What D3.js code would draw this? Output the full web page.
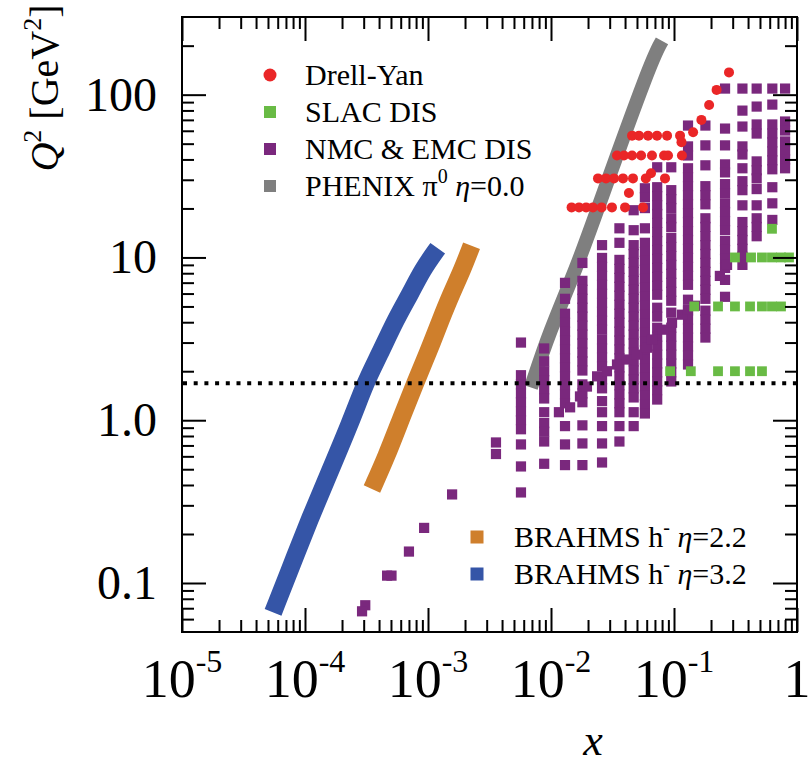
<!DOCTYPE html>
<html>
<head>
<meta charset="utf-8">
<script src="https://cdn.jsdelivr.net/npm/d3@7/dist/d3.min.js"></script>
<style>
html,body{margin:0;padding:0;background:#fff;}
svg{display:block;}
text{font-family:"Liberation Serif","Times New Roman",Times,serif;fill:#000;}
</style>
</head>
<body>
<svg id="chart" width="809" height="765"></svg>
<script>
// ---------------- data ----------------
const drellYanX = [0.0147,0.0169,0.0193,0.0219,0.0258,0.0313,0.040,0.056,
  0.043,
  0.0241,0.028,0.0325,0.0385,0.0464,0.059,0.065,0.0845,
  0.0344,0.0392,0.0456,0.054,0.0662,0.083,0.0894,0.116,
  0.0456,0.0519,0.0615,0.0728,0.0878,0.112,
  0.115,0.143,0.167,0.193,0.222,0.28];
const drellYanQ2 = [20.3,20.3,20.3,20.3,20.3,20.3,20.3,20.3,
  24.9,
  30.6,30.6,30.6,30.6,30.6,30.6,32.9,30.6,
  42.3,42.3,42.3,42.3,42.3,42.3,42.3,42.3,
  56,56,56,56,56,56,
  51.1,58.8,70,86.5,107,137];

const slacX = [0.626,
  0.313,0.423,0.519,0.626,0.741,0.861,
  0.146,0.228,0.313,0.415,0.519,0.626,0.741,
  0.093,0.137,0.228,0.313,0.415,0.519];
const slacQ2 = [15,
  10,10,10,10,10,10,
  5,5,5,5,5,5,5,
  2,2,2,2,2,2];

const nmcColumnX = [0.0057,0.0088,0.013,0.018,0.026,0.036,0.047,0.058,0.073,0.095,0.13,0.18,0.26,0.36,0.47,0.63,0.80];
const nmcColumnQ2 = [
  [3.0,1.89,1.66,1.46,1.29,1.13,1.0,0.88,0.71,0.52,0.36],
  [2.76,2.3,2.0,1.76,1.55,1.36,1.12,0.96,0.85,0.74,0.54],
  [6.98,5.57,4.51,3.97,3.5,3.09,2.72,2.4,2.11,1.86,1.64,1.44,1.27,0.92,0.71,0.53],
  [9.25,7.18,6.33,5.57,4.91,4.33,3.81,3.36,2.96,2.6,2.3,2.02,1.66,1.46,1.29,0.93,0.72,0.53],
  [11.9,9.93,8.75,7.71,6.79,5.98,5.27,4.64,4.09,3.6,3.13,2.76,2.43,2.14,1.78,1.57,1.31,1.12,0.92,0.72,0.55],
  [15.1,12.3,9.66,8.5,7.49,6.6,5.82,5.12,4.51,3.97,3.5,3.09,2.72,2.4,2.11,1.86,1.64,1.44,1.27,1.12,0.92,0.74],
  [19.5,14.7,11.9,10.5,9.25,8.15,7.18,6.33,5.57,4.91,4.33,3.81,3.36,2.96,2.6,2.3,2.02,1.78,1.57,1.38,1.12,0.92],
  [26.6,23.4,20.1,15.1,12.3,10.8,9.52,8.39,7.39,6.51,5.73,5.05,4.45,3.92,3.45,3.04,2.68,2.36,2.08,1.83,1.61,1.42,1.25,1.1],
  [35.8,27,23.8,20.9,18.5,16.3,14.3,12.6,11.1,9.79,8.62,7.6,6.69,5.9,4.91,4.33,3.7,3.26,2.87,2.53,2.23,1.97,1.73,1.53,1.34],
  [35.8,25.9,22.8,20.1,17.4,15.4,13.2,11.6,10.2,9.0,7.93,6.98,6.15,5.42,4.58,3.7,3.26,2.87,2.53,2.23,1.97,1.73],
  [64.6,48.1,42.3,35.3,31.1,27.4,24.1,21.2,18.7,16.5,14.5,12.8,11.3,9.93,8.75,7.71,6.79,5.5,4.71,4.15,3.65,3.22,2.84,2.5,2.2],
  [64.6,48.8,36.8,27.4,24.1,21.2,17.4,15.4,13.5,11.9,10.5,9.25,8.15,7.18,6.33,5.57,4.71,4.15,3.65,3.22],
  [109,61.9,48.8,37.3,33.3,28.2,24.8,21.5,19,16.7,14.7,12.6,11.1,9.79,8.62,7.28,5.73],
  [109,79.8,63.7,48.1,42.9,35.3,29.4,25.9,20.9,16.5,14.5,12.8,11.3,10.1,9.0],
  [109,84.5,65.6,57.7,38.9,34.3,30.6,26.3,20.9,17.4,15.4,13.5],
  [109,86.9,65.6,57.7,50.9,44.8,39.5,34.8,27,21.5,17],
  [109,68.4,60.2,51.6,45.4,40,35.3]
];
const nmcDiagX = [0.0116,0.0143,0.0172,0.0196,0.0237,0.0285,0.0344,0.0415,0.05,0.0603,0.0662,0.0814,0.0964,0.116,0.13,0.148,0.236,0.27];
const nmcDiagQ2 = [1.12,1.2,1.4,1.61,1.86,2.0,2.2,2.36,2.53,2.79,3.13,3.6,3.97,4.45,4.78,5.05,7.7,9.0];
const nmcLowX = [0.00357,0.00357,0.00157,0.00093,0.0007,0.000465,0.000505,0.000309,0.000291];
const nmcLowQ2 = [0.73,0.62,0.35,0.218,0.156,0.111,0.111,0.073,0.067];

const phenixX = [0.00687,0.00964,0.01625,0.0237,0.065,0.0799];
const phenixQ2 = [1.59,3.45,8.75,19.5,161,214];
const brahms22X = [0.00035,0.00046,0.00060,0.00079,0.00100,0.00127,0.00155,0.0019,0.00226];
const brahms22Q2 = [0.378,0.6,1.01,1.71,2.6,4.15,6.0,8.4,11.8];
const brahms32X = [0.000055,0.000086,0.00011,0.000142,0.00024,0.00031,0.00040,0.000545,0.00072,0.00090,0.00120];
const brahms32Q2 = [0.066,0.156,0.25,0.395,1.01,1.71,2.5,4.15,6.0,8.4,11.4];

const xTickValues = [1e-5,1e-4,1e-3,1e-2,1e-1,1];
const xTickExponents = ["-5","-4","-3","-2","-1",""];
const yTickValues = [0.1,1,10,100];
const yTickLabels = ["0.1","1.0","10","100"];
const q2Cut = 1.69;

// ---------------- layout ----------------
const L = 182, R = 797, T = 17, B = 632;
const colors = {dy:"#ea2627", slac:"#69bb45", nmc:"#7a287d", phenix:"#7f7f7f", b22:"#cf7f2c", b32:"#3555a7"};

const svg = d3.select("#chart");
const x = d3.scaleLog().domain([1e-5,1]).range([L,R]);
const y = d3.scaleLog().domain([0.05,300]).range([B,T]);

const plot = svg.append("g");

// bands
const line = d3.line().x(d=>x(d[0])).y(d=>y(d[1])).curve(d3.curveBasis);
function band(xs, qs, col, w){
  plot.append("path").datum(xs.map((v,i)=>[v,qs[i]]))
    .attr("d", line).attr("fill","none").attr("stroke",col)
    .attr("stroke-width",w).attr("stroke-linecap","butt");
}
band(phenixX, phenixQ2, colors.phenix, 14);
band(brahms32X, brahms32Q2, colors.b32, 18);
band(brahms22X, brahms22Q2, colors.b22, 18);

// NMC & EMC DIS
const nmcPts = [];
nmcColumnX.forEach((cx,i)=>nmcColumnQ2[i].forEach(q=>nmcPts.push([cx,q])));
nmcDiagX.forEach((v,i)=>nmcPts.push([v,nmcDiagQ2[i]]));
nmcLowX.forEach((v,i)=>nmcPts.push([v,nmcLowQ2[i]]));
const sq = 10.2;
plot.append("g").selectAll("rect").data(nmcPts).join("rect")
  .attr("x",d=>x(d[0])-sq/2).attr("y",d=>y(d[1])-sq/2)
  .attr("width",sq).attr("height",sq)
  .attr("fill",colors.nmc);

// SLAC
plot.append("g").selectAll("rect").data(slacX.map((v,i)=>[v,slacQ2[i]])).join("rect")
  .attr("x",d=>x(d[0])-4.9).attr("y",d=>y(d[1])-4.9)
  .attr("width",9.8).attr("height",9.8).attr("fill",colors.slac);

// Drell-Yan
plot.append("g").selectAll("circle").data(drellYanX.map((v,i)=>[v,drellYanQ2[i]])).join("circle")
  .attr("cx",d=>x(d[0])).attr("cy",d=>y(d[1])).attr("r",5).attr("fill",colors.dy);

// dotted Q2 cut
svg.append("line").attr("x1",L+1).attr("x2",R).attr("y1",y(q2Cut)).attr("y2",y(q2Cut))
  .attr("stroke","#000").attr("stroke-width",4).attr("stroke-dasharray","4 6.7");

// ---------------- axes ----------------
const xMinor = [];
for (let e=-5;e<0;e++) for (let k=2;k<=9;k++) xMinor.push(k*Math.pow(10,e));
const yMinor = [];
for (let e=-2;e<=2;e++) for (let k=2;k<=9;k++){ const v=k*Math.pow(10,e); if (v>0.05 && v<300) yMinor.push(v); }

function ax(gen, tr, vals, size){
  const g = svg.append("g").attr("transform",tr)
    .call(gen.tickValues(vals).tickSize(size).tickFormat(""));
  g.select(".domain").remove();
  g.selectAll("line").attr("stroke","#000").attr("stroke-width",2);
}
ax(d3.axisBottom(x), `translate(0,${B})`, xTickValues, -24);
ax(d3.axisBottom(x), `translate(0,${B})`, xMinor, -12);
ax(d3.axisTop(x), `translate(0,${T})`, xTickValues, -24);
ax(d3.axisTop(x), `translate(0,${T})`, xMinor, -12);
ax(d3.axisLeft(y), `translate(${L},0)`, yTickValues, -24);
ax(d3.axisLeft(y), `translate(${L},0)`, yMinor, -12);
ax(d3.axisRight(y), `translate(${R},0)`, yTickValues, -24);
ax(d3.axisRight(y), `translate(${R},0)`, yMinor, -12);

svg.append("rect").attr("x",L).attr("y",T).attr("width",R-L).attr("height",B-T)
  .attr("fill","none").attr("stroke","#000").attr("stroke-width",2);

// tick labels
yTickValues.forEach((v,i)=>{
  svg.append("text").attr("x",157).attr("y",y(v)+16).attr("text-anchor","end")
    .attr("font-size",48).text(yTickLabels[i]);
});
xTickValues.forEach((v,i)=>{
  const t = svg.append("text").attr("x",x(v)).attr("y",697).attr("text-anchor","middle").attr("font-size",54);
  if (xTickExponents[i]===""){ t.text("1"); }
  else {
    t.append("tspan").text("10");
    t.append("tspan").attr("dy",-25).attr("font-size",32).text(xTickExponents[i]);
  }
});

// axis titles
svg.append("text").attr("x",593).attr("y",755).attr("text-anchor","middle")
  .attr("font-size",44).attr("font-style","italic").text("x");
const yt = svg.append("text").attr("transform","translate(58,88) rotate(-90)")
  .attr("text-anchor","middle").attr("font-size",40);
yt.append("tspan").attr("font-style","italic").text("Q");
yt.append("tspan").attr("font-size",26).attr("dy",-17).text("2");
yt.append("tspan").attr("dy",17).text(" [GeV");
yt.append("tspan").attr("font-size",26).attr("dy",-17).text("2");
yt.append("tspan").attr("dy",17).text("]");

// ---------------- legends ----------------
const legTop = [
  {sym:"circle", col:colors.dy, label:["Drell-Yan"]},
  {sym:"rect", col:colors.slac, label:["SLAC DIS"]},
  {sym:"rect", col:colors.nmc, label:["NMC & EMC DIS"]},
  {sym:"rect", col:colors.phenix, label:["PHENIX π", "0", "η", "=0.0"]}
];
const legTopY = [75,112,149,186];
legTop.forEach((d,i)=>{
  const cy = legTopY[i];
  if (d.sym==="circle") svg.append("circle").attr("cx",270).attr("cy",cy).attr("r",6.5).attr("fill",d.col);
  else svg.append("rect").attr("x",264).attr("y",cy-6).attr("width",12).attr("height",12).attr("fill",d.col);
  const t = svg.append("text").attr("x",305).attr("y",cy+10).attr("font-size",30);
  if (d.label.length===1) t.text(d.label[0]);
  else {
    t.append("tspan").text(d.label[0]);
    t.append("tspan").attr("font-size",20).attr("dy",-13).text(d.label[1]);
    t.append("tspan").attr("dy",13).text(" ");
    t.append("tspan").attr("font-style","italic").text(d.label[2]);
    t.append("tspan").text(d.label[3]);
  }
});
const legBot = [
  {col:colors.b22, eta:"=2.2"},
  {col:colors.b32, eta:"=3.2"}
];
const legBotY = [537,574];
legBot.forEach((d,i)=>{
  const cy = legBotY[i];
  svg.append("rect").attr("x",470.5).attr("y",cy-6.5).attr("width",13).attr("height",13).attr("fill",d.col);
  const t = svg.append("text").attr("x",514).attr("y",cy+10).attr("font-size",30);
  t.append("tspan").text("BRAHMS h");
  t.append("tspan").attr("font-size",20).attr("dy",-13).text("-");
  t.append("tspan").attr("dy",13).text(" ");
  t.append("tspan").attr("font-style","italic").text("η");
  t.append("tspan").text(d.eta);
});
</script>
</body>
</html>
